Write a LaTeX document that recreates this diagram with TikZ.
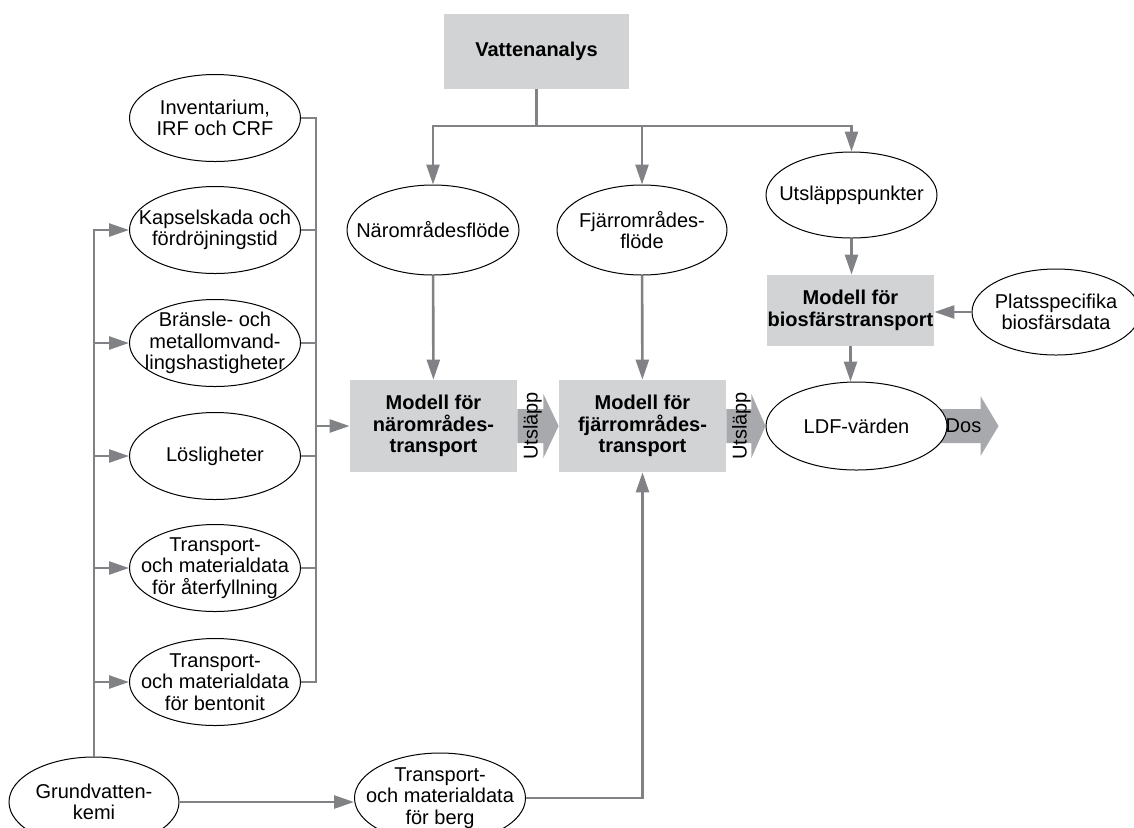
\documentclass[tikz,border=0pt]{standalone}
\usepackage{fontspec}
\setmainfont{Liberation Sans}
\usetikzlibrary{shapes.geometric,arrows.meta,calc,backgrounds}

\definecolor{boxgray}{HTML}{D1D3D4}
\definecolor{linegray}{HTML}{808285}
\definecolor{fatgray}{HTML}{A7A9AC}
\newcommand\figfont{\fontsize{10}{10.8}\selectfont}

\tikzset{
oval/.style={ellipse,draw,line width=0.5pt,fill=white,inner sep=-10pt,minimum width=85.5pt,minimum height=43.5pt,align=center,font=\figfont},
model/.style={rectangle,fill=boxgray,inner sep=0pt,minimum width=83.5pt,minimum height=46pt,align=center,font=\figfont\bfseries},
link/.style={draw=linegray,line width=1.3pt},
flow/.style={link,-{Triangle[length=10pt,width=6.5pt]}},
fat/.style={fill=fatgray}
}

\begin{document}
\begin{tikzpicture}[x=0.5pt,y=-0.5pt]
\useasboundingbox (0,0) rectangle (1134,827);

\node[model,minimum width=92.5pt,minimum height=37.5pt] (vatten) at (536.5,51.5) {Vattenanalys};
\node[oval,minimum width=86pt,minimum height=45pt] (naerfl) at (433,230) {Närområdesflöde};
\node[oval,minimum width=85pt,minimum height=45pt] (fjfl) at (642,230) {Fjärrområdes-\\flöde};
\node[oval,minimum height=43pt] (utpkt) at (851.5,195) {Utsläppspunkter};

\node[oval] (inv) at (215,118) {Inventarium,\\IRF och CRF};
\node[oval] (kap) at (215,230) {Kapselskada och\\fördröjningstid};
\node[oval] (bran) at (215,343) {Bränsle- och\\metallomvand-\\lingshastigheter};
\node[oval] (los) at (215,456) {Lösligheter};
\node[oval] (aterf) at (215,568) {Transport-\\och materialdata\\för återfyllning};
\node[oval] (bent) at (215,682) {Transport-\\och materialdata\\för bentonit};
\node[oval,minimum width=85pt,minimum height=45pt] (grund) at (94,802) {Grundvatten-\\kemi};
\node[oval,minimum height=45pt] (berg) at (440,798) {Transport-\\och materialdata\\för berg};

\node[model] (near) at (433.5,426) {Modell för\\närområdes-\\transport};
\node[model] (far) at (642.5,426) {Modell för\\fjärrområdes-\\transport};
\node[model,minimum height=35.5pt] (bio) at (850.5,310.5) {Modell för\\biosfärstransport};
\node[oval,minimum width=84pt,minimum height=43pt] (plats) at (1056,312) {Platsspecifika\\biosfärsdata};
\node[oval,minimum width=90.5pt,minimum height=44pt] (ldf) at (856.5,426) {LDF-värden};

\begin{scope}[on background layer]
\fill[fat] ($(near.east)+(0,-17)$) -- ++(26,0) -- ++(0,-15) -- (far.west) -- ($(near.east)+(26,32)$) -- ++(0,-15) -- ($(near.east)+(0,17)$) -- cycle;
\fill[fat] ($(far.east)+(0,-17)$) -- ++(25,0) -- ++(0,-15) -- (ldf.west) -- ($(far.east)+(25,32)$) -- ++(0,-15) -- ($(far.east)+(0,17)$) -- cycle;
\fill[fat] ($(ldf.east)+(-20,-17)$) -- ++(53,0) -- ++(0,-13) -- ($(ldf.east)+(51,0)$) -- ($(ldf.east)+(33,30)$) -- ++(0,-13) -- ($(ldf.east)+(-20,17)$) -- cycle;
\end{scope}
\node[rotate=90,font=\figfont] (ut1) at ($(near.east)+(15,0)$) {Utsläpp};
\node[rotate=90,font=\figfont] (ut2) at ($(far.east)+(15,0)$) {Utsläpp};
\node[font=\figfont] (dos) at ($(ldf.east)+(16,0)$) {Dos};

\coordinate (split) at (536.5,126);
\draw[link] (vatten) -- (split);
\foreach \n in {naerfl,fjfl,utpkt}
\draw[flow] (split) -| (\n);
\draw[flow] (naerfl) -- (near);
\draw[flow] (fjfl) -- (far);
\draw[flow] (utpkt.south) -- (utpkt.south |- bio.north);
\draw[flow] (plats.west) -- (plats.west -| bio.east);
\draw[flow] (bio.south) -- (bio.south |- ldf.north);

\coordinate (rbus) at (316,426);
\draw[link] (inv.east) -| (rbus) |- (bent.east);
\foreach \n in {kap,bran,los,aterf}
\draw[link] (\n.east) -- (\n.east -| rbus);
\draw[flow] (rbus) -- (near);

\draw[flow] (grund.north) |- (kap.west);
\foreach \n in {bran,los,aterf,bent}
\draw[flow] (grund.north |- \n.west) -- (\n.west);
\draw[flow] (grund) -- (berg.west |- grund);
\draw[flow] (berg.east) -| (far.south);
\end{tikzpicture}
\end{document}
